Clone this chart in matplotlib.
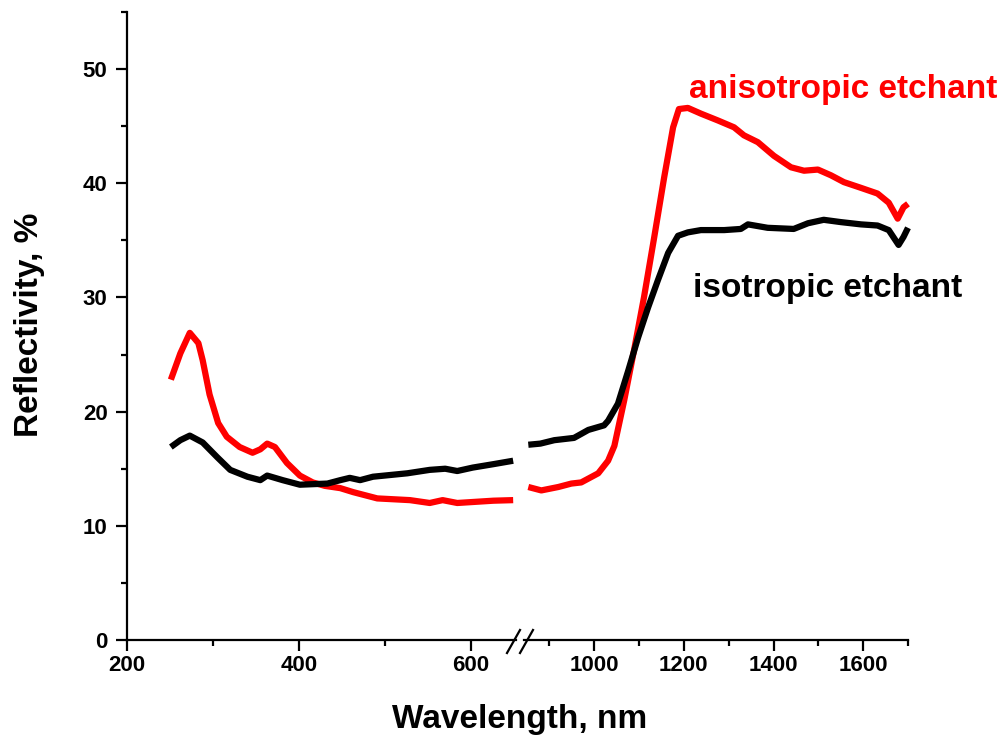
import matplotlib
matplotlib.use('Agg')
import matplotlib.pyplot as plt
from matplotlib.lines import Line2D
from matplotlib.ticker import MultipleLocator

plt.rcParams['font.family'] = ['Liberation Sans', 'DejaVu Sans']
plt.rcParams['font.weight'] = 'bold'

# anisotropic etchant (red), below the axis break
red_left_nm = [251, 262, 273, 283, 288, 296, 306, 316, 331, 346, 355, 363, 372,
               386, 401, 416, 430, 448, 463, 491, 529, 552, 567, 584, 626, 649]
red_left = [22.8, 25.1, 26.9, 26.0, 24.5, 21.5, 19.0, 17.8, 16.9, 16.4, 16.7, 17.2, 16.9,
            15.5, 14.4, 13.8, 13.5, 13.3, 12.95, 12.4, 12.25, 12.0, 12.25, 12.0, 12.2, 12.25]

# anisotropic etchant (red), above the axis break
red_right_nm = [853, 882, 920, 949, 971, 1009, 1031, 1045, 1056, 1067, 1089, 1111, 1134,
                1156, 1176, 1189, 1209, 1238, 1276, 1312, 1334, 1365, 1401, 1439, 1468,
                1499, 1528, 1557, 1595, 1632, 1657, 1677, 1690, 1700]
red_right = [13.4, 13.1, 13.4, 13.7, 13.8, 14.6, 15.7, 17.0, 19.0, 21.0, 25.4, 30.0, 35.3,
             40.5, 44.9, 46.5, 46.6, 46.1, 45.5, 44.9, 44.2, 43.6, 42.4, 41.4, 41.1,
             41.2, 40.7, 40.1, 39.6, 39.1, 38.3, 36.9, 37.9, 38.2]

# isotropic etchant (black)
blk_left_nm = [251, 262, 273, 288, 305, 320, 340, 355, 363, 381, 401, 433, 448, 459,
               471, 486, 526, 552, 570, 584, 602, 626, 649]
blk_left = [16.9, 17.5, 17.9, 17.3, 16.0, 14.9, 14.3, 14.0, 14.4, 14.0, 13.6, 13.7, 14.0, 14.2,
            14.0, 14.3, 14.6, 14.9, 15.0, 14.8, 15.1, 15.4, 15.7]

blk_right_nm = [853, 880, 911, 955, 987, 1022, 1031, 1053, 1076, 1098, 1120, 1142, 1165,
                1187, 1209, 1238, 1290, 1327, 1343, 1387, 1445, 1477, 1512, 1550, 1595,
                1632, 1657, 1679, 1690, 1700]
blk_right = [17.1, 17.2, 17.5, 17.7, 18.4, 18.8, 19.2, 20.7, 23.6, 26.5, 29.1, 31.5, 33.9,
             35.4, 35.7, 35.9, 35.9, 36.0, 36.4, 36.1, 36.0, 36.5, 36.8, 36.6, 36.4,
             36.3, 35.9, 34.6, 35.3, 36.1]

W, H = 1008, 737
fig = plt.figure(figsize=(W / 100, H / 100), dpi=100)

# two axes side by side make the broken x axis
ax1 = fig.add_axes([127 / W, 1 - 640 / H, (516 - 127) / W, 628 / H])
ax2 = fig.add_axes([524 / W, 1 - 640 / H, (908 - 524) / W, 628 / H], sharey=ax1)

lw = 4.5
ax1.plot(red_left_nm, red_left, color='red', lw=lw, solid_capstyle='butt')
ax1.plot(blk_left_nm, blk_left, color='black', lw=lw, solid_capstyle='butt')
ax2.plot(red_right_nm, red_right, color='red', lw=lw, solid_capstyle='butt', clip_on=False)
ax2.plot(blk_right_nm, blk_right, color='black', lw=lw, solid_capstyle='butt', clip_on=False)

ax1.set_xlim(200, 652.3)
ax2.set_xlim(843.4, 1700)
ax1.set_ylim(0, 55)

for ax in (ax1, ax2):
    ax.spines['top'].set_visible(False)
    ax.spines['right'].set_visible(False)
    ax.spines['bottom'].set_linewidth(1.6)
    ax.spines['left'].set_linewidth(1.6)
    ax.tick_params(which='major', direction='out', length=8, width=1.6, labelsize=16, pad=3)
    ax.tick_params(which='minor', direction='out', length=4, width=1.6)
    for lab in ax.get_xticklabels() + ax.get_yticklabels():
        lab.set_fontweight('bold')

ax1.xaxis.set_major_locator(MultipleLocator(200))
ax1.xaxis.set_minor_locator(MultipleLocator(100))
ax2.xaxis.set_major_locator(MultipleLocator(200))
ax2.xaxis.set_minor_locator(MultipleLocator(100))
ax1.yaxis.set_major_locator(MultipleLocator(10))
ax1.yaxis.set_minor_locator(MultipleLocator(5))
ax1.tick_params(axis='y', which='major', pad=6)

ax2.spines['left'].set_visible(False)
ax2.tick_params(axis='y', which='both', left=False, labelleft=False)

# break marks
for x0 in (507, 520):
    fig.add_artist(Line2D([x0 / W, (x0 + 13) / W], [1 - 653 / H, 1 - 630 / H],
                          color='black', lw=1.6, transform=fig.transFigure))

ax2.text(1212, 47.5, 'anisotropic etchant', color='red', fontsize=24,
         fontweight='bold', ha='left', va='baseline')
ax2.text(1220, 30.0, 'isotropic etchant', color='black', fontsize=24,
         fontweight='bold', ha='left', va='baseline')

fig.text(520 / W, 1 - 728 / H, 'Wavelength, nm', fontsize=24, fontweight='bold',
         ha='center', va='baseline')
fig.text(30 / W, 1 - 325 / H, 'Reflectivity, %', fontsize=24, fontweight='bold',
         ha='center', va='center', rotation=90)

fig.savefig('out.png', dpi=100)
